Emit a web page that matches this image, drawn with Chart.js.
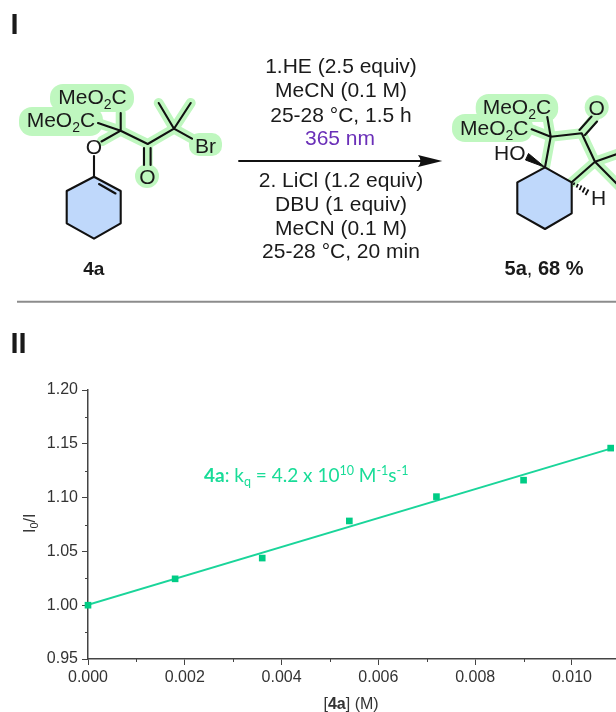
<!DOCTYPE html>
<html>
<head>
<meta charset="utf-8">
<script src="https://cdn.jsdelivr.net/npm/chart.js@4/dist/chart.umd.min.js"></script>
<style>
  html, body { margin: 0; padding: 0; background: #fff; overflow: hidden; }
  #wrap { position: relative; width: 616px; height: 712px; }
  #quenchChart { position: absolute; left: 0; top: 0; }
  #scheme { position: absolute; left: 0; top: 0; pointer-events: none; }
  #scheme text { font-family: "Liberation Sans", Arial, sans-serif; fill: #1a1a1a; }
  .atom { font-size: 21px; }
  .cond { font-size: 21px; text-anchor: middle; }
  .hl { fill: none; stroke: #bff7bf; stroke-width: 10; stroke-linecap: round; stroke-linejoin: round; }
  .hlfill { fill: #bff7bf; }
  .bond { fill: none; stroke: #111; stroke-width: 2.1; stroke-linecap: round; stroke-linejoin: round; }
</style>
</head>
<body>
<div id="wrap">
  <canvas id="quenchChart" width="616" height="712"></canvas>

  <!-- reaction scheme (panel I) -->
  <svg id="scheme" width="616" height="365" viewBox="0 0 616 365">
    <text x="10.5" y="34" style="font-size:29px;font-weight:bold">I</text>

    <!-- 4a highlights -->
    <rect class="hlfill" x="50" y="84" width="84" height="28" rx="13"/>
    <rect class="hlfill" x="19" y="107" width="84" height="29" rx="13"/>
    <rect class="hlfill" x="189" y="133" width="33" height="23" rx="10"/>
    <circle class="hlfill" cx="147" cy="176" r="12"/>
    <path class="hl" d="M102 141L120.7 130.7M120.7 113L120.7 130.7L98 123M120.7 130.7L147.7 144L147.7 165M147.7 144L174 128.7L158.7 103M174 128.7L190.7 103M174 128.7L192 138.7"/>
    <!-- 4a ring -->
    <path d="M94 176.7L120.7 191L120.7 223.3L94 238.7L66.7 223.3L66.7 191Z" fill="#bfd8fb"/>
    <path class="bond" d="M94 176.7L120.7 191L120.7 223.3L94 238.7L66.7 223.3L66.7 191ZM99 184L115.5 193.5"/>
    <path class="bond" d="M94 156L94 176.7M101.5 141.5L120.7 130.7M120.7 113L120.7 130.7L98 123M120.7 130.7L147.7 144L174 128.7L158.7 103M174 128.7L190.7 103M174 128.7L192 138.7M144 148L144 165M150.6 148L150.6 165"/>
    <text class="atom" x="58.3" y="104.3">MeO<tspan dy="5" font-size="14">2</tspan><tspan dy="-5">C</tspan></text>
    <text class="atom" x="26.7" y="126.7">MeO<tspan dy="5" font-size="14">2</tspan><tspan dy="-5">C</tspan></text>
    <text class="atom" x="94" y="153.5" text-anchor="middle">O</text>
    <text class="atom" x="147.5" y="183.5" text-anchor="middle">O</text>
    <text class="atom" x="195" y="153">Br</text>
    <text x="93.7" y="274.7" text-anchor="middle" style="font-size:19px;font-weight:bold">4a</text>

    <!-- conditions and arrow -->
    <text class="cond" x="341" y="73.3">1.HE (2.5 equiv)</text>
    <text class="cond" x="341" y="97.3">MeCN (0.1 M)</text>
    <text class="cond" x="341" y="121.7">25-28 °C, 1.5 h</text>
    <text class="cond" x="340" y="145.3" style="fill:#6a2fb8">365 nm</text>
    <path d="M238.3 161L425 161" stroke="#111" stroke-width="2.2" fill="none"/>
    <path d="M442.3 161L418 155Q423 161 418 167Z" fill="#111"/>
    <text class="cond" x="341" y="187.3">2. LiCl (1.2 equiv)</text>
    <text class="cond" x="341" y="211">DBU (1 equiv)</text>
    <text class="cond" x="341" y="235">MeCN (0.1 M)</text>
    <text class="cond" x="341" y="258.3">25-28 °C, 20 min</text>

    <!-- 5a highlights -->
    <rect class="hlfill" x="475.7" y="94" width="82.5" height="28" rx="13"/>
    <rect class="hlfill" x="452" y="114" width="81" height="28" rx="13"/>
    <circle class="hlfill" cx="596.7" cy="107.3" r="12"/>
    <path class="hl" d="M545 167.3L550.7 136.7L581.7 133.3L595 161.7L571.7 182.3M595 161.7L620 153M595 161.7L620 187M581.7 133.3L595 117M550.7 136.7L547.3 117M550.7 136.7L531.7 129.3"/>
    <!-- 5a ring -->
    <path d="M545 167.3L571.7 182.3L571.7 213.3L545 229L517.3 213.3L517.3 182.3Z" fill="#bfd8fb"/>
    <path class="bond" d="M545 167.3L571.7 182.3L571.7 213.3L545 229L517.3 213.3L517.3 182.3Z"/>
    <path class="bond" d="M545 167.3L550.7 136.7L581.7 133.3L595 161.7L571.7 182.3M595 161.7L620 153M595 161.7L620 187M579.5 130L591.5 116.5M585 135L597 121.5M550.7 136.7L547.3 117M550.7 136.7L531.7 129.3"/>
    <path d="M545 167.3L528.5 153.5L525.5 160Z" fill="#111" stroke="#111" stroke-width="1"/>
    <path stroke="#111" stroke-width="1.8" fill="none" d="M574.5 182.5L573.5 185M578 184L576.5 187.5M581.5 185.5L579.5 190M585 187.5L582.5 192.5M588.5 189.5L585.5 195"/>
    <text class="atom" x="482.7" y="114.3">MeO<tspan dy="5" font-size="14">2</tspan><tspan dy="-5">C</tspan></text>
    <text class="atom" x="460" y="135">MeO<tspan dy="5" font-size="14">2</tspan><tspan dy="-5">C</tspan></text>
    <text class="atom" x="596.7" y="115" text-anchor="middle">O</text>
    <text class="atom" x="494" y="160">HO</text>
    <text class="atom" x="591" y="205">H</text>
    <text x="544" y="275" text-anchor="middle" style="font-size:20px;font-weight:bold">5a<tspan font-weight="normal">,</tspan> 68 %</text>

    <line x1="17" y1="301.7" x2="616" y2="301.7" stroke="#8c8c8c" stroke-width="2"/>
    <text x="10.5" y="353" style="font-size:29px;font-weight:bold">II</text>
  </svg>
</div>

<script>
/* ================= DATA ================= */
const concentration = [0, 0.0018, 0.0036, 0.0054, 0.0072, 0.009, 0.0108];
const quenching = [1.000, 1.0245, 1.0438, 1.0783, 1.1009, 1.1162, 1.146];

const fitX = [0, 0.0108];
const fitY = [1.0003, 1.1455];

const xMinorTicks = [0.001, 0.003, 0.005, 0.007, 0.009];
const yMinorTicks = [0.975, 1.025, 1.075, 1.125, 1.175];

/* ================= STYLE ================= */
const MARK_COLOR = "#00cc85";
const LINE_COLOR = "#1ad59a";
const LABEL_COLOR = "#19dc98";
const AXIS_COLOR = "#444444";
const TEXT_COLOR = "#333333";
const AXIS_FONT = '"Liberation Sans", Arial, sans-serif';

/* draw a row of text pieces, for sub and superscripts */
function drawRuns(ctx, runs, x, y) {
    runs.forEach(r => {
        ctx.font = `${r.bold ? "bold " : ""}${r.size}px ${r.family}`;
        ctx.fillText(r.text, x, y + (r.dy || 0));
        x += ctx.measureText(r.text).width;
    });
}

/* minor ticks, annotation and the axis titles chart.js can't subscript */
const extrasPlugin = {
    id: "extras",
    afterDraw(chart) {
        const { ctx, scales } = chart;
        const xs = scales.x, ys = scales.y;

        ctx.save();
        ctx.strokeStyle = AXIS_COLOR;
        ctx.lineWidth = 1;
        xMinorTicks.forEach(v => {
            const px = Math.round(xs.getPixelForValue(v)) + 0.5;
            ctx.beginPath();
            ctx.moveTo(px, xs.top);
            ctx.lineTo(px, xs.top + 3);
            ctx.stroke();
        });
        yMinorTicks.forEach(v => {
            const py = Math.round(ys.getPixelForValue(v)) + 0.5;
            ctx.beginPath();
            ctx.moveTo(ys.right, py);
            ctx.lineTo(ys.right - 3, py);
            ctx.stroke();
        });

        ctx.textBaseline = "alphabetic";
        ctx.textAlign = "left";

        // annotation
        const lato = 'Lato, sans-serif';
        ctx.fillStyle = LABEL_COLOR;
        drawRuns(ctx, [
            { text: "4a", size: 19, family: lato, bold: true },
            { text: ": k", size: 19, family: lato },
            { text: "q", size: 12.5, family: lato, dy: 4 },
            { text: " = 4.2 x 10", size: 19, family: lato },
            { text: "10", size: 12.5, family: lato, dy: -7 },
            { text: " M", size: 19, family: lato },
            { text: "-1", size: 12.5, family: lato, dy: -7 },
            { text: "s", size: 19, family: lato },
            { text: "-1", size: 12.5, family: lato, dy: -7 }
        ], 204, 481.7);

        // x title
        ctx.fillStyle = TEXT_COLOR;
        drawRuns(ctx, [
            { text: "[", size: 16, family: AXIS_FONT },
            { text: "4a", size: 16, family: AXIS_FONT, bold: true },
            { text: "] (M)", size: 16, family: AXIS_FONT }
        ], 323.5, 709);

        // y title
        ctx.translate(35, 533);
        ctx.rotate(-Math.PI / 2);
        drawRuns(ctx, [
            { text: "I", size: 16, family: AXIS_FONT },
            { text: "0", size: 11, family: AXIS_FONT, dy: 3 },
            { text: "/I", size: 16, family: AXIS_FONT }
        ], 0, 0);
        ctx.restore();
    }
};

/* ================= CHART ================= */
new Chart(document.getElementById("quenchChart"), {
    type: "scatter",
    data: {
        datasets: [
            {
                label: "Fit",
                data: fitX.map((x, i) => ({ x, y: fitY[i] })),
                showLine: true,
                borderColor: LINE_COLOR,
                borderWidth: 2,
                pointRadius: 0,
                order: 2
            },
            {
                label: "4a",
                data: concentration.map((x, i) => ({ x, y: quenching[i] })),
                pointStyle: "rect",
                pointRadius: 4.7,
                backgroundColor: MARK_COLOR,
                borderColor: MARK_COLOR,
                borderWidth: 0,
                clip: false,
                order: 1
            }
        ]
    },
    options: {
        responsive: false,
        animation: false,
        layout: { autoPadding: false, padding: { top: 390, left: 0, right: 0, bottom: 0 } },
        plugins: {
            legend: { display: false },
            tooltip: { enabled: false }
        },
        scales: {
            x: {
                type: "linear",
                min: 0,
                max: 0.01091,
                afterFit: s => { s.height = 53; },
                border: { color: AXIS_COLOR, width: 1.5 },
                grid: { drawOnChartArea: false, tickLength: 6, tickColor: AXIS_COLOR },
                ticks: {
                    stepSize: 0.002,
                    includeBounds: false,
                    maxRotation: 0,
                    padding: 3,
                    color: TEXT_COLOR,
                    font: { family: AXIS_FONT, size: 16 },
                    callback: v => v.toFixed(3)
                }
            },
            y: {
                min: 0.95,
                max: 1.2,
                afterFit: s => { s.width = 88; },
                border: { color: AXIS_COLOR, width: 1.5 },
                grid: { drawOnChartArea: false, tickLength: 6, tickColor: AXIS_COLOR },
                ticks: {
                    stepSize: 0.05,
                    padding: 4,
                    color: TEXT_COLOR,
                    font: { family: AXIS_FONT, size: 16 },
                    callback: v => v.toFixed(2)
                }
            }
        }
    },
    plugins: [extrasPlugin]
});
</script>
</body>
</html>
